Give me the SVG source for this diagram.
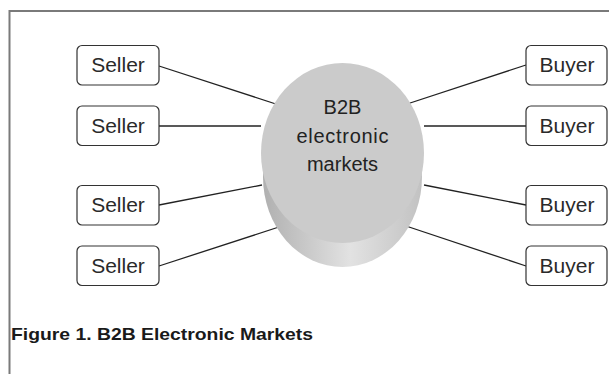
<svg xmlns="http://www.w3.org/2000/svg" width="609" height="374" viewBox="0 0 609 374">
  <style>
    .box { fill: #ffffff; stroke: #333333; stroke-width: 1.2; }
    .lbl { font-family: "Liberation Sans", Arial, sans-serif; font-size: 21px; fill: #2a2a2a; text-anchor: middle; }
    .hub { font-family: "Liberation Sans", Arial, sans-serif; font-size: 20px; fill: #222222; text-anchor: middle; }
    .link { stroke: #222222; stroke-width: 1.3; fill: none; }
    .frame { stroke: #7a7a7a; stroke-width: 2; fill: none; }
    .caption { font-family: "Liberation Sans", Arial, sans-serif; font-size: 17px; font-weight: bold; fill: #1a1a1a; }
  </style>
  <defs>
    <linearGradient id="sideShade" x1="0" y1="0" x2="1" y2="0">
      <stop offset="0" stop-color="#b0b0b0"/>
      <stop offset="0.55" stop-color="#e2e2e2"/>
      <stop offset="1" stop-color="#c2c2c2"/>
    </linearGradient>
  </defs>

  <rect x="0" y="0" width="609" height="374" fill="#ffffff"/>

  <!-- page frame -->
  <path class="frame" d="M9.5 374 V11 H609"/>

  <!-- connectors -->
  <g id="connectors">
    <line class="link" x1="159" y1="66" x2="282" y2="106"/>
    <line class="link" x1="159" y1="126" x2="261" y2="126"/>
    <line class="link" x1="159" y1="205" x2="262" y2="185"/>
    <line class="link" x1="159" y1="266" x2="282" y2="226"/>
    <line class="link" x1="526" y1="65" x2="404" y2="105"/>
    <line class="link" x1="526" y1="126" x2="424" y2="126"/>
    <line class="link" x1="526" y1="205" x2="424" y2="185"/>
    <line class="link" x1="526" y1="266" x2="403" y2="225"/>
  </g>

  <!-- central market cylinder -->
  <g id="market">
    <ellipse cx="342.5" cy="177" rx="79.5" ry="90" fill="url(#sideShade)"/>
    <ellipse cx="342.5" cy="153" rx="81.5" ry="90" fill="#cbcbcb"/>
    <text class="hub" x="342.5" y="114">B2B</text>
    <text class="hub" x="342.5" y="143" textLength="92">electronic</text>
    <text class="hub" x="342.5" y="171">markets</text>
  </g>

  <!-- sellers -->
  <g id="seller1">
    <rect class="box" x="77" y="45.5" width="82" height="39.5" rx="5"/>
    <text class="lbl" x="118" y="72">Seller</text>
  </g>
  <g id="seller2">
    <rect class="box" x="77" y="106" width="82" height="39.5" rx="5"/>
    <text class="lbl" x="118" y="132.5">Seller</text>
  </g>
  <g id="seller3">
    <rect class="box" x="77" y="185.5" width="82" height="39.5" rx="5"/>
    <text class="lbl" x="118" y="212">Seller</text>
  </g>
  <g id="seller4">
    <rect class="box" x="77" y="246" width="82" height="39.5" rx="5"/>
    <text class="lbl" x="118" y="272.5">Seller</text>
  </g>

  <!-- buyers -->
  <g id="buyer1">
    <rect class="box" x="526" y="45.5" width="81" height="39.5" rx="5"/>
    <text class="lbl" x="567" y="72">Buyer</text>
  </g>
  <g id="buyer2">
    <rect class="box" x="526" y="106" width="81" height="39.5" rx="5"/>
    <text class="lbl" x="567" y="132.5">Buyer</text>
  </g>
  <g id="buyer3">
    <rect class="box" x="526" y="185.5" width="81" height="39.5" rx="5"/>
    <text class="lbl" x="567" y="212">Buyer</text>
  </g>
  <g id="buyer4">
    <rect class="box" x="526" y="246" width="81" height="39.5" rx="5"/>
    <text class="lbl" x="567" y="272.5">Buyer</text>
  </g>

  <!-- caption -->
  <text class="caption" x="11" y="340" textLength="302" lengthAdjust="spacingAndGlyphs">Figure 1. B2B Electronic Markets</text>
</svg>
